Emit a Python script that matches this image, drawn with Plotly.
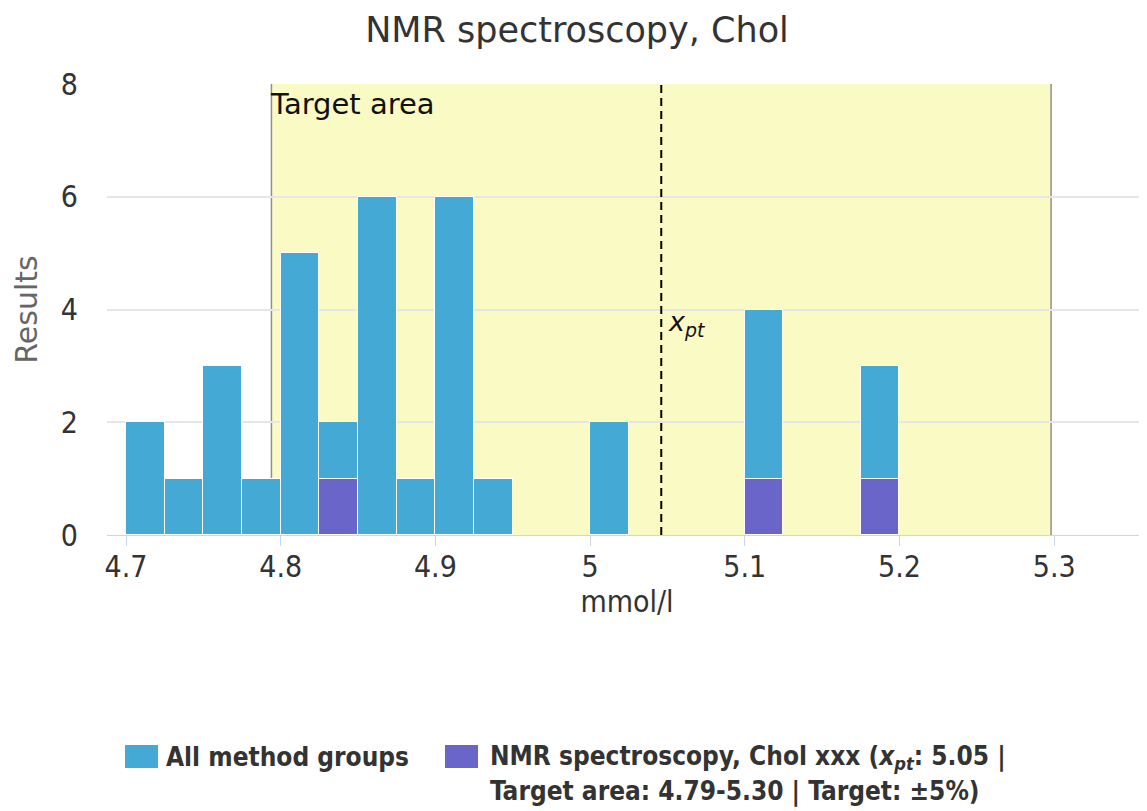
import plotly.graph_objects as go

# histogram bins (left edge, width 0.025 mmol/l)
bin_left = [4.700, 4.725, 4.750, 4.775, 4.800, 4.825, 4.850, 4.875, 4.900, 4.925, 5.000, 5.100, 5.175]
all_counts = [2, 1, 3, 1, 5, 2, 6, 1, 6, 1, 2, 4, 3]
nmr_counts = [0, 0, 0, 0, 0, 1, 0, 0, 0, 0, 0, 1, 1]
bin_width = 0.025

x_pt = 5.046
target_low = 4.794
target_high = 5.298

x_ticks = [4.7, 4.8, 4.9, 5.0, 5.1, 5.2, 5.3]
x_ticktext = ["4.7", "4.8", "4.9", "5", "5.1", "5.2", "5.3"]
y_ticks = [0, 2, 4, 6, 8]

BLUE = "#45a9d6"
PURPLE = "#6a66c9"
FONT = "DejaVu Sans"
COND = "DejaVu Sans Condensed, DejaVu Sans"

# the page body adds an 8px offset, so size the figure to fit the window
OFF = 8
W, H = 1147 - OFF, 811 - OFF
ML, MR, MT, MB = 107 - OFF, 0, 84 - OFF, 811 - 535


def px(x):
    # window pixel -> paper x
    x = x - OFF
    return (x - ML) / (W - ML - MR)


def py(y):
    # window pixel -> paper y
    y = y - OFF
    return (H - MB - y) / (H - MT - MB)


other_counts = [a - n for a, n in zip(all_counts, nmr_counts)]

fig = go.Figure()
fig.add_trace(go.Bar(
    x=bin_left, y=nmr_counts, width=bin_width, offset=0,
    name="NMR spectroscopy, Chol xxx",
    marker=dict(color=PURPLE, line=dict(color="white", width=1)),
    showlegend=False,
))
fig.add_trace(go.Bar(
    x=bin_left, y=other_counts, width=bin_width, offset=0,
    name="All method groups",
    marker=dict(color=BLUE, line=dict(color="white", width=1)),
    showlegend=False,
))

# target area band + borders
fig.add_shape(type="rect", x0=target_low, x1=target_high, y0=0, y1=8,
              fillcolor="#fafac4", line_width=0, layer="below")
for xv in [target_low, target_high]:
    fig.add_shape(type="line", x0=xv, x1=xv, y0=0, y1=8,
                  line=dict(color="#8f8f8f", width=1.5), layer="below")
# x_pt line
fig.add_shape(type="line", x0=x_pt, x1=x_pt, y0=0, y1=8,
              line=dict(color="black", width=2, dash="8px,5px"))

fig.add_annotation(x=target_low, y=8, text="Target area", showarrow=False,
                   xanchor="left", yanchor="top", xshift=-3, yshift=-1,
                   font=dict(family=FONT, size=29, color="#111"))
fig.add_annotation(x=x_pt, y=3.75, text="<i>x<sub>pt</sub></i>", showarrow=False,
                   xanchor="left", yanchor="middle", xshift=5,
                   font=dict(family=FONT, size=27, color="#111"))

# legend drawn by hand (large swatches)
leg_font = dict(family=COND, size=26, color="#333333", weight="bold")
fig.add_shape(type="rect", xref="paper", yref="paper",
              x0=px(125), x1=px(158), y0=py(745), y1=py(768),
              fillcolor=BLUE, line_width=0)
fig.add_annotation(xref="paper", yref="paper", x=px(164), y=py(757),
                   text="All method groups", showarrow=False,
                   xanchor="left", yanchor="middle", font=leg_font)
fig.add_shape(type="rect", xref="paper", yref="paper",
              x0=px(445), x1=px(478), y0=py(745), y1=py(768),
              fillcolor=PURPLE, line_width=0)
fig.add_annotation(xref="paper", yref="paper", x=px(488), y=py(757),
                   text="NMR spectroscopy, Chol xxx (<i>x<sub>pt</sub></i>: 5.05 |",
                   showarrow=False, xanchor="left", yanchor="middle", font=leg_font)
fig.add_annotation(xref="paper", yref="paper", x=px(488), y=py(791),
                   text="Target area: 4.79-5.30 | Target: ±5%)",
                   showarrow=False, xanchor="left", yanchor="middle", font=leg_font)

fig.update_layout(
    width=W, height=H,
    margin=dict(l=ML, r=MR, t=MT, b=MB),
    barmode="stack",
    bargap=0,
    plot_bgcolor="white",
    paper_bgcolor="white",
    font=dict(family=FONT, color="#333333"),
    title=dict(text="NMR spectroscopy, Chol", x=(577 - OFF) / W, xanchor="center",
               y=1 - (30 - OFF) / H, yanchor="middle", yref="container",
               font=dict(family=FONT, size=35, color="#333333")),
    xaxis=dict(
        range=[4.6877, 5.36],
        tickvals=x_ticks,
        ticktext=x_ticktext,
        showgrid=False, zeroline=False,
        showline=True, linecolor="#ccd6eb", linewidth=1,
        ticks="outside", ticklen=10, tickcolor="#ccd6eb",
        ticklabelstandoff=-5,
        tickfont=dict(family=COND, size=30, color="#333333"),
        title=dict(text="mmol/l", standoff=4,
                   font=dict(family=COND, size=30, color="#333333")),
    ),
    yaxis=dict(
        range=[0, 8],
        tickvals=y_ticks,
        showgrid=True, gridcolor="#e6e6e6", gridwidth=1.5,
        zeroline=False,
        ticklabelstandoff=28,
        tickfont=dict(family=COND, size=30, color="#333333"),
        title=dict(text="Results", standoff=14,
                   font=dict(family=FONT, size=30, color="#666666")),
    ),
)

fig.write_html("out.html")
